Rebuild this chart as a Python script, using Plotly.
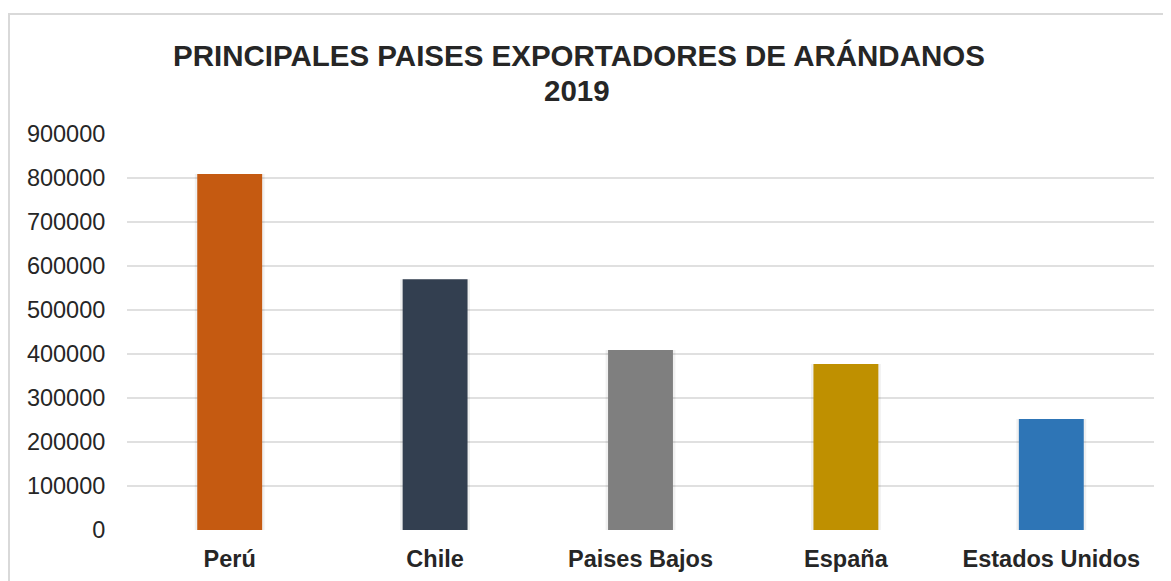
import plotly.graph_objects as go

categories = ["Perú", "Chile", "Paises Bajos", "España", "Estados Unidos"]
values = [809000, 570000, 409000, 377000, 252000]
colors = ["#C55A11", "#333F50", "#7F7F7F", "#BF9000", "#2E75B6"]
tick_vals = [0, 100000, 200000, 300000, 400000, 500000, 600000, 700000, 800000, 900000]
title_line1 = "PRINCIPALES PAISES EXPORTADORES DE ARÁNDANOS"
title_line2 = "2019"

W, H = 1171, 581
OFF = 8  # page body margin offset
# desired on-screen plot box
sx0, sx1, sy0, sy1 = 127, 1154, 134, 530
L = sx0 - OFF
R = W - (sx1 - OFF)
T = sy0 - OFF
B = H - (sy1 - OFF)
pw, ph = W - L - R, H - T - B

def px_x(x):
    return (x - OFF - L) / pw

def px_y(y):
    return (H - B - (y - OFF)) / ph

fig = go.Figure()
# subtle shadow
fig.add_trace(go.Bar(
    x=categories, y=values, width=0.34,
    marker=dict(color="rgba(0,0,0,0.06)", line=dict(width=0)),
    hoverinfo="skip", showlegend=False,
))
fig.add_trace(go.Bar(
    x=categories, y=values, width=0.316,
    marker=dict(color=colors, line=dict(width=0)),
    showlegend=False,
))

fig.update_layout(
    width=W, height=H,
    margin=dict(l=L, r=R, t=T, b=B, pad=0, autoexpand=False),
    paper_bgcolor="white", plot_bgcolor="white",
    barmode="overlay",
    font=dict(family="Liberation Sans, Arial, sans-serif", color="#262626"),
    xaxis=dict(
        showgrid=False, showline=False, zeroline=False, automargin=False,
        ticks="outside", ticklen=8, tickcolor="rgba(0,0,0,0)",
        tickfont=dict(size=23.5, family="Liberation Sans, Arial, sans-serif", color="#262626", weight="bold"),
    ),
    yaxis=dict(
        range=[0, 900000], tickvals=tick_vals, tickformat="d",
        showgrid=True, gridcolor="#e0e0e0", gridwidth=1.5,
        zeroline=False, showline=False, automargin=False,
        ticks="outside", ticklen=16, tickcolor="rgba(0,0,0,0)",
        tickfont=dict(size=23.5, color="#262626"),
    ),
    annotations=[
        dict(text="<b>" + title_line1 + "</b>", xref="paper", yref="paper",
             x=px_x(578.5), y=px_y(55.5), xanchor="center", yanchor="middle",
             showarrow=False, font=dict(size=29.5, color="#262626")),
        dict(text="<b>" + title_line2 + "</b>", xref="paper", yref="paper",
             x=px_x(577), y=px_y(90.5), xanchor="center", yanchor="middle",
             showarrow=False, font=dict(size=29.5, color="#262626")),
    ],
    shapes=[
        dict(type="rect", xref="paper", yref="paper",
             x0=px_x(9), x1=px_x(1195), y0=px_y(610), y1=px_y(14),
             line=dict(color="#d9d9d9", width=2), fillcolor="rgba(0,0,0,0)", layer="below"),
    ],
)

fig.write_html("out.html")
